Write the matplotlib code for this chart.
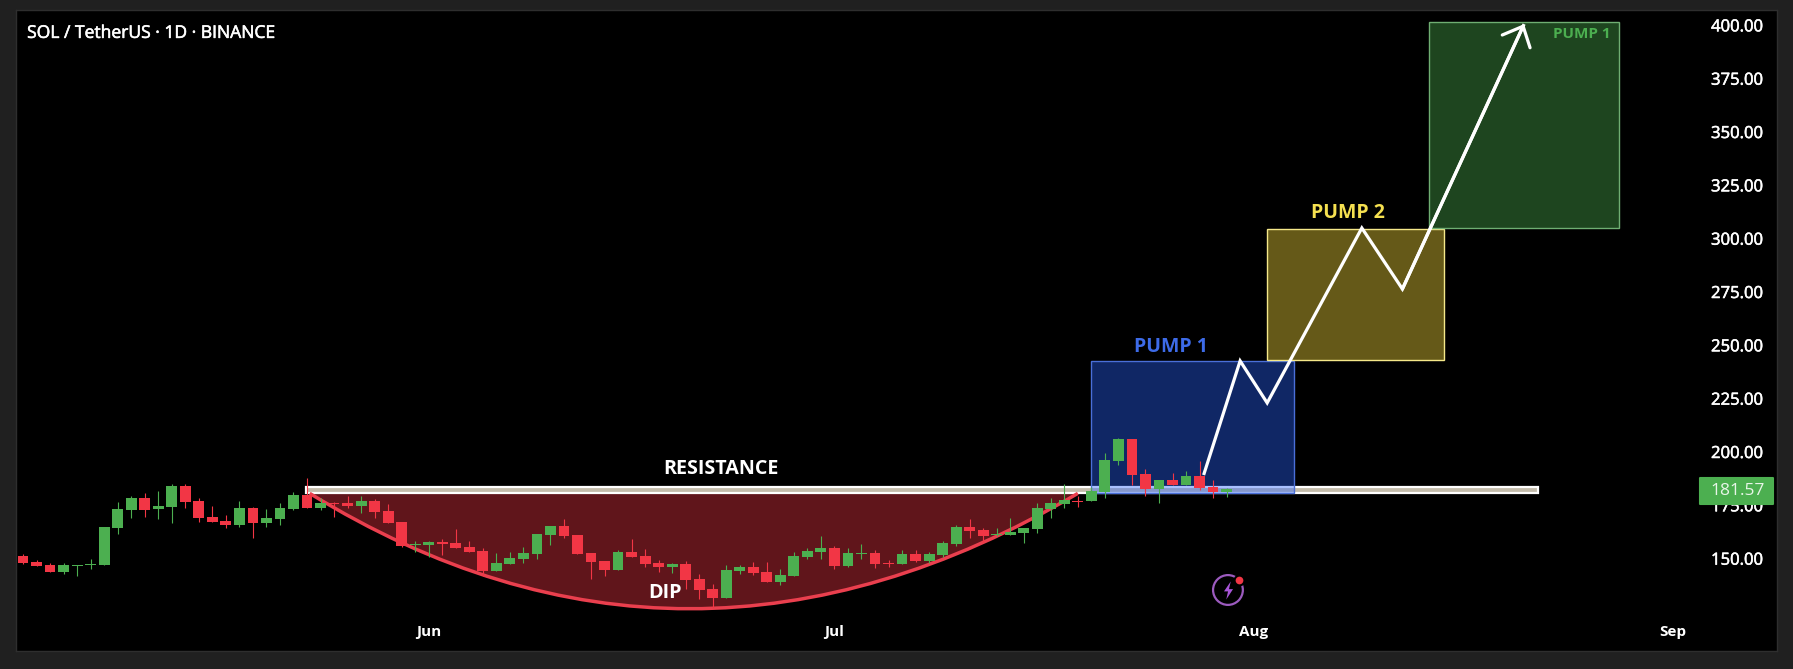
import matplotlib
matplotlib.use('Agg')
import matplotlib.pyplot as plt
import matplotlib.patheffects as pe
from matplotlib.patches import Rectangle, PathPatch
from matplotlib.path import Path

plt.rcParams['font.family'] = ['Open Sans', 'DejaVu Sans']

# daily candles, first one is May 2
opens = [151.2, 148.4, 146.9, 143.7, 146.7, 147.2, 147.0, 164.4, 172.8, 178.4,
	173.3, 174.2, 184.0, 177.0, 169.5, 167.6, 165.8, 173.7, 166.7, 168.6,
	173.3, 179.8, 173.7, 176.1, 176.1, 174.7, 177.0, 172.3, 167.2, 156.4,
	156.4, 157.8, 157.3, 155.5, 153.6, 144.2, 147.5, 149.8, 152.2, 161.1,
	165.5, 161.1, 152.6, 148.9, 144.7, 153.1, 151.2, 148.0, 146.1, 147.5,
	140.5, 135.8, 131.5, 144.2, 146.1, 143.7, 139.0, 141.9, 150.8, 153.1,
	155.0, 146.5, 152.2, 152.6, 148.0, 147.5, 152.2, 148.7, 151.7, 156.9,
	164.8, 163.4, 161.2, 161.2, 162.2, 163.9, 173.3, 175.6, 177.2, 177.0,
	181.2, 195.8, 206.1, 189.7, 182.6, 186.9, 184.5, 188.7, 183.6, 181.2]
closes = [148.0, 146.7, 143.7, 147.0, 147.2, 147.6, 164.8, 173.3, 178.4, 172.8,
	174.7, 184.0, 176.6, 169.1, 167.2, 165.8, 173.7, 166.7, 169.1, 173.7,
	179.8, 173.7, 176.1, 175.6, 174.7, 177.0, 171.9, 166.7, 155.9, 156.9,
	157.8, 157.0, 154.8, 153.1, 144.2, 147.9, 150.3, 152.6, 161.6, 165.5,
	160.6, 152.2, 148.4, 144.7, 153.1, 150.8, 147.5, 146.1, 147.5, 140.0,
	135.3, 131.5, 144.7, 146.1, 143.3, 139.0, 142.3, 151.2, 153.6, 155.0,
	146.5, 152.6, 152.6, 147.5, 147.6, 152.2, 148.9, 152.2, 157.3, 164.8,
	163.0, 160.6, 161.7, 162.6, 164.4, 173.7, 176.1, 177.5, 176.7, 181.7,
	196.2, 206.1, 189.2, 182.6, 186.9, 184.5, 188.7, 183.1, 181.2, 182.5]
highs = [152.0, 149.4, 147.8, 147.8, 147.2, 149.8, 164.8, 176.6, 179.2, 180.8,
	181.9, 184.8, 185.0, 178.3, 174.8, 170.5, 177.0, 174.0, 173.4, 176.1,
	181.1, 187.6, 178.3, 176.7, 179.2, 179.4, 178.0, 175.6, 167.2, 158.3,
	158.3, 159.2, 163.7, 158.3, 154.8, 152.5, 153.1, 155.5, 161.6, 165.5,
	168.6, 161.1, 152.6, 148.9, 154.0, 159.2, 154.4, 149.4, 148.0, 148.9,
	142.8, 138.1, 147.0, 147.0, 148.4, 148.4, 145.1, 153.1, 155.0, 160.6,
	155.9, 155.0, 156.9, 154.0, 149.4, 154.0, 154.0, 153.1, 158.1, 165.8,
	168.6, 164.4, 164.4, 169.0, 164.4, 175.9, 178.4, 185.0, 179.4, 183.8,
	199.4, 206.4, 206.1, 191.9, 186.9, 190.3, 191.1, 195.9, 186.9, 183.1]
lows = [147.6, 146.4, 143.7, 142.8, 141.9, 145.1, 147.0, 161.4, 168.9, 169.4,
	168.4, 166.6, 173.7, 167.2, 167.0, 164.4, 165.0, 159.5, 164.8, 165.8,
	172.8, 173.7, 172.8, 169.5, 173.7, 171.2, 169.1, 166.7, 155.6, 153.1,
	150.8, 151.7, 154.8, 153.1, 142.0, 144.2, 147.5, 147.9, 149.8, 156.4,
	159.5, 152.2, 140.5, 142.0, 144.7, 150.8, 146.2, 143.7, 143.3, 135.8,
	131.1, 126.7, 131.5, 142.8, 142.3, 139.0, 137.6, 141.9, 149.8, 149.7,
	145.1, 146.1, 149.8, 145.6, 146.2, 147.5, 148.6, 147.8, 150.9, 155.9,
	159.5, 157.8, 160.6, 161.2, 157.3, 162.0, 169.1, 173.7, 174.0, 177.0,
	178.4, 193.9, 184.5, 179.4, 176.2, 184.5, 184.5, 182.2, 178.4, 178.7]

y_ticks = [150, 175, 200, 225, 250, 275, 300, 325, 350, 375, 400]
month_days = [30, 60, 91, 122]
month_names = ['Jun', 'Jul', 'Aug', 'Sep']
last_price = 181.57

# drawn tools
resistance = [20.9, 112.0, 180.6, 183.8]
blue_box = [79.0, 94.0, 180.8, 242.7]
yellow_box = [92.0, 105.1, 243.1, 304.5]
green_box = [104.0, 118.0, 305.0, 401.6]
dip_curve = [(21.2, 180.6), (49.0, 72.4), (78.0, 180.6)]
path_x = [87.3, 90.0, 92.0, 99.0, 102.0, 111.0]
path_y = [189.2, 242.7, 223.0, 305.0, 276.4, 400.6]

GREEN = '#4caf50'
RED = '#f23645'
BLUE = '#2962ff'
YELLOW = '#ffe13e'

fig = plt.figure(figsize=(17.93, 6.69), dpi=100, facecolor='#202020')
ax = fig.add_axes([16 / 1793, 18 / 669, 1761 / 1793, 641 / 669], facecolor='black')
ax.set_xlim(-0.52, 129.7)
ax.set_ylim(106.7, 407.2)

for s in ax.spines.values():
	s.set_color('#2e2e2e')
	s.set_linewidth(1)

thicker = [pe.withStroke(linewidth=0.4, foreground='white')]

ax.yaxis.tick_right()
ax.set_yticks(y_ticks)
ax.set_yticklabels(['%.2f' % t for t in y_ticks], color='white', fontsize=12, path_effects=thicker)
ax.tick_params(axis='y', length=0, pad=-47.5)
ax.set_xticks(month_days)
ax.set_xticklabels(month_names, color='white', fontsize=11, fontweight='bold')
ax.tick_params(axis='x', length=0, pad=-19)


def box(b, color, edge, z=1):
	r = Rectangle((b[0], b[2]), b[1] - b[0], b[3] - b[2], facecolor=color, alpha=0.4, edgecolor='none', zorder=z)
	ax.add_patch(r)
	e = Rectangle((b[0], b[2]), b[1] - b[0], b[3] - b[2], fill=False, edgecolor=edge, linewidth=1, zorder=z)
	ax.add_patch(e)


# resistance band goes under the blue box so it tints blue there
ax.add_patch(Rectangle((resistance[0], resistance[2]), resistance[1] - resistance[0], resistance[3] - resistance[2],
	facecolor='#c4bcab', edgecolor='white', linewidth=1.6, zorder=1))

box(blue_box, BLUE, '#4a6fd8', 1.1)
box(yellow_box, YELLOW, '#f5e88a', 1.1)
box(green_box, GREEN, '#6fae72', 1.1)

# dip arc
fill_path = Path(dip_curve + [dip_curve[0]], [Path.MOVETO, Path.CURVE3, Path.CURVE3, Path.CLOSEPOLY])
ax.add_patch(PathPatch(fill_path, facecolor=RED, alpha=0.4, edgecolor='none', zorder=0.9))
arc_path = Path(dip_curve, [Path.MOVETO, Path.CURVE3, Path.CURVE3])
ax.add_patch(PathPatch(arc_path, facecolor='none', edgecolor='#ea3f4e', linewidth=2.5, zorder=1.2))

# candles
for i in range(len(opens)):
	c = GREEN if closes[i] >= opens[i] else RED
	ax.vlines(i, lows[i], highs[i], color=c, linewidth=0.8, zorder=2)
	ax.bar(i, abs(closes[i] - opens[i]), bottom=min(opens[i], closes[i]), width=0.8, color=c, linewidth=0, zorder=2.1)

# projected path
ax.plot(path_x, path_y, color='white', linewidth=2.3, solid_joinstyle='miter', solid_capstyle='butt', zorder=3)
ax.annotate('', xy=(path_x[-1], path_y[-1]), xytext=(path_x[-2], path_y[-2]),
	arrowprops=dict(arrowstyle='->,head_length=1.2,head_width=1.1', color='white', lw=2.3,
		shrinkA=0, shrinkB=0, mutation_scale=10), zorder=3)

ax.text(0.3, 396, 'SOL / TetherUS \u00b7 1D \u00b7 BINANCE', color='white', fontsize=12.6, va='center', ha='left', path_effects=thicker)
ax.text(51.6, 192, 'RESISTANCE', color='white', fontsize=14.2, fontweight='bold', va='center', ha='center')
ax.text(47.5, 133.9, 'DIP', color='white', fontsize=14.2, fontweight='bold', va='center', ha='center')
ax.text(84.9, 249.2, 'PUMP 1', color='#3d6be8', fontsize=14, fontweight='bold', va='center', ha='center')
ax.text(98.0, 312.0, 'PUMP 2', color='#f5e050', fontsize=14, fontweight='bold', va='center', ha='center')
ax.text(115.3, 396.0, 'PUMP 1', color=GREEN, fontsize=11, fontweight='bold', va='center', ha='center')

# price tag
ax.add_patch(Rectangle((124.0, last_price - 6.1), 5.4, 12.2, facecolor=GREEN, edgecolor=GREEN, linewidth=1.5,
	joinstyle='round', zorder=4))
ax.text(126.8, last_price, '%.2f' % last_price, color='#e8f5e8', fontsize=12.5, va='center', ha='center', zorder=4.1)

# lightning badge
bolt = [(0.25, 1), (-0.5, -0.1), (-0.05, -0.1), (-0.25, -1), (0.5, 0.15), (0.05, 0.15), (0.25, 1)]
ax.scatter([89.1], [135.3], s=460, facecolor='none', edgecolor='#9c5bbf', linewidth=1.6, zorder=3)
ax.scatter([89.1], [135.3], s=170, marker=bolt, color='#a855d8', linewidth=0, zorder=3)
ax.scatter([89.9], [140.0], s=50, color=RED, edgecolor='black', linewidth=1.5, zorder=3.1)

plt.savefig('out.png', dpi=100, facecolor=fig.get_facecolor())
